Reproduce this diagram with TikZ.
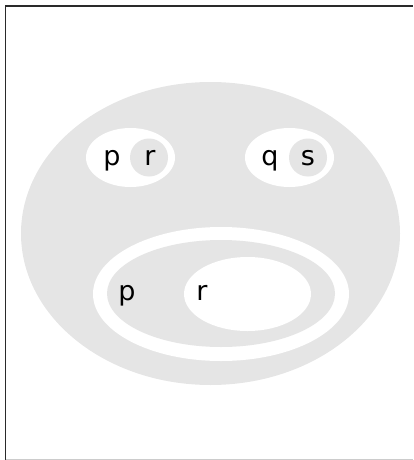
\documentclass[tikz,border=0pt]{standalone}
\usepackage{fontspec}
\setsansfont{DejaVu Sans}
\usetikzlibrary{positioning}
\definecolor{bGray}{HTML}{E5E5E5}
\definecolor{fDark}{HTML}{2A2A2A}
\definecolor{fLight}{HTML}{CCCCCC}

\begin{document}
\begin{tikzpicture}[x=1pt, y=-1pt,
  lbl/.style={font=\sffamily\fontsize{27}{32}\selectfont, inner sep=0pt, anchor=base},
  blob/.style={fill=bGray},
  hole/.style={fill=white},
]
  \useasboundingbox (0,0) rectangle (413,460);
  % frame
  \draw[fDark, line width=1.5pt] (5.5,460) -- (5.5,6) -- (413,6);
  \draw[fLight, line width=1pt] (5.5,459) -- (413,459);
  % outer region
  \fill[blob] (210.5,233.5) ellipse [x radius=189.5, y radius=151.5];
  % upper left
  \fill[hole] (130.5,157.5) ellipse [x radius=44.5, y radius=29.5];
  \fill[blob] (149,157.5) circle [radius=19];
  % upper right
  \fill[hole] (289.5,157.5) ellipse [x radius=44.5, y radius=29.5];
  \fill[blob] (308,157.5) circle [radius=19];
  % lower
  \fill[hole] (221,294) ellipse [x radius=128, y radius=67];
  \fill[blob] (221,293.5) ellipse [x radius=114, y radius=53.5];
  \fill[hole] (247.5,294) ellipse [x radius=63.5, y radius=37];
  % labels
  \node[lbl] (pA) at (112,165) {p};
  \node[lbl] (rA) at (150,165) {r};
  \node[lbl] (qB) at (270,165) {q};
  \node[lbl] (sB) at (308,165) {s};
  \node[lbl] (pC) at (127,300) {p};
  \node[lbl] (rC) at (202,300) {r};
\end{tikzpicture}
\end{document}
